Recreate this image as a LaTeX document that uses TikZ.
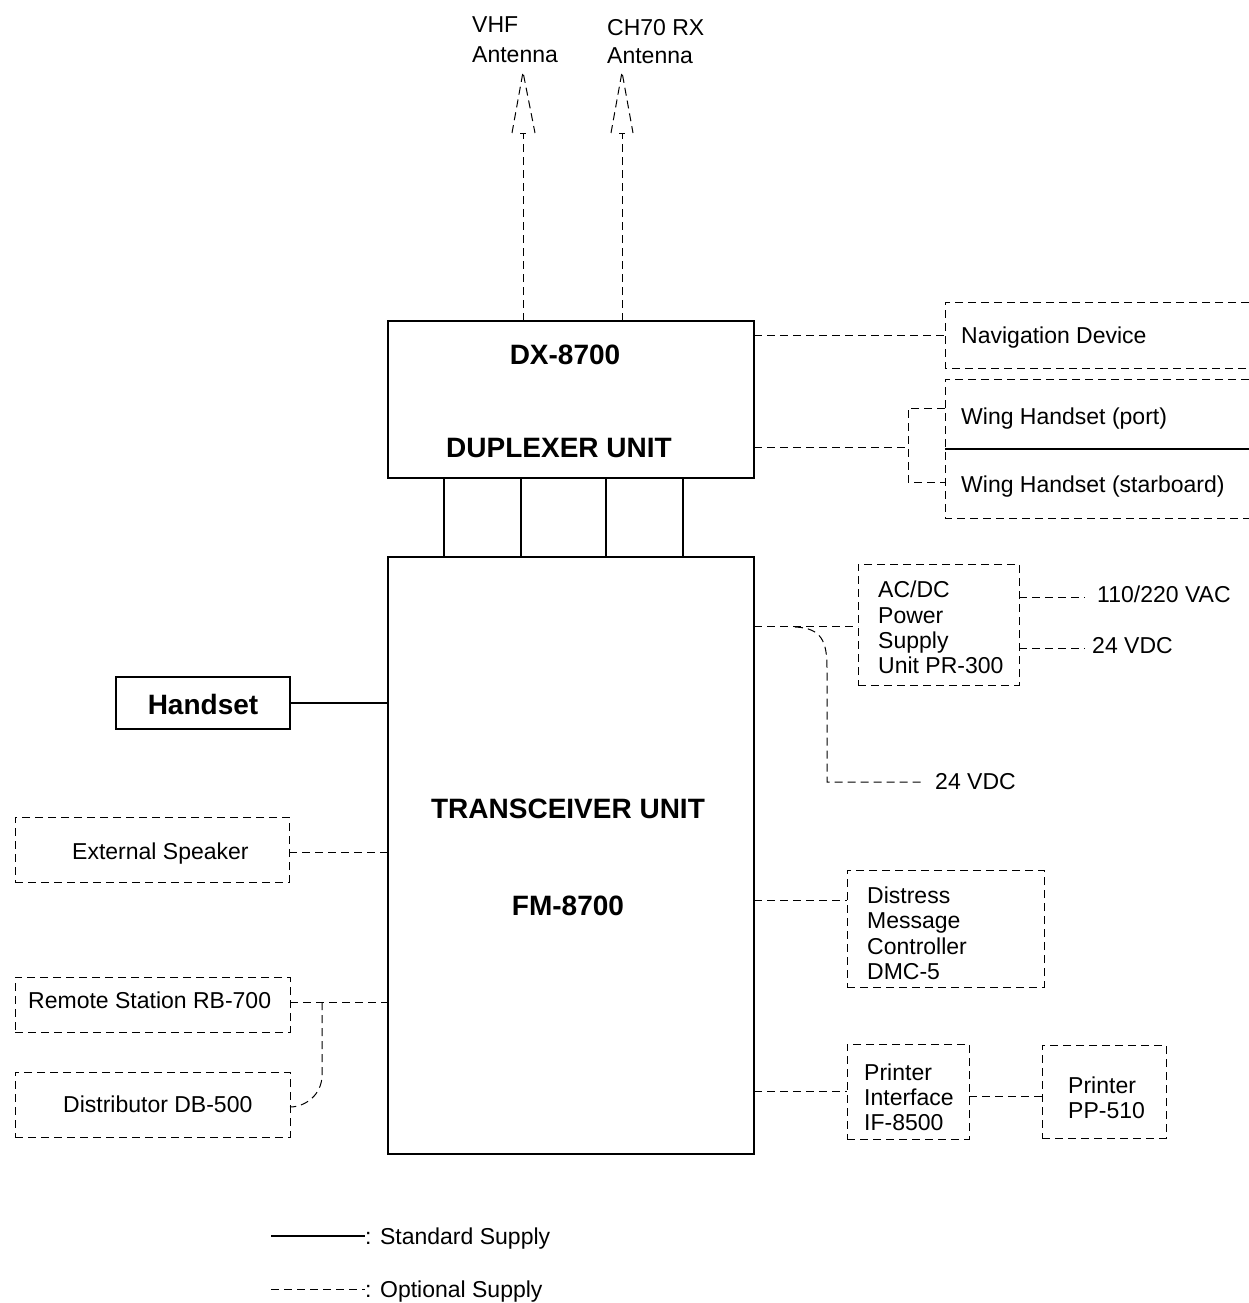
\documentclass[tikz,border=0pt]{standalone}
\usepackage{fontspec}
\setmainfont{Liberation Sans}
\begin{document}
\begin{tikzpicture}[x=1pt,y=-1pt,
  opt/.style={line width=1pt, dash pattern=on 8pt off 5pt},
  std/.style={line width=1.1pt},
  box/.style={draw, rectangle, inner sep=0pt, outer sep=0pt, anchor=north west},
  optbox/.style={box, opt},
  mainbox/.style={box, line width=2pt},
  txt/.style={inner sep=0pt, anchor=base west, font=\fontsize{23}{25}\selectfont},
  btxt/.style={inner sep=0pt, anchor=base, font=\fontsize{28}{30}\selectfont\bfseries}]
\useasboundingbox (0,0) rectangle (1249,1303);

% main units
\node[mainbox, minimum width=366pt, minimum height=157pt] (dx) at (388,321) {};
\node[btxt] (dxa) at (565,364) {DX-8700};
\node[btxt] (dxb) at (559,457) {DUPLEXER UNIT};
\node[mainbox, minimum width=366pt, minimum height=597pt] (trx) at (388,557) {};
\node[btxt] (trxa) at (568,818) {TRANSCEIVER UNIT};
\node[btxt] (trxb) at (568,915) {FM-8700};
\foreach \xx in {444,521,606,683}
  \draw[std] (\xx,0 |- dx.south) -- (\xx,0 |- trx.north);

% antennas
\coordinate (ant1) at (523,72);
\coordinate (ant2) at (622,72);
\draw[opt] (ant1 |- dx.north) -- (523,133);
\draw[std, line width=0.8pt] (520,133) -- (526,133);
\draw[opt] (512,133) -- (ant1) -- (535,133);
\draw[opt] (ant2 |- dx.north) -- (622,133);
\draw[std, line width=0.8pt] (619,133) -- (625,133);
\draw[opt] (611,133) -- (ant2) -- (633,133);
\node[txt] (vhf1) at (472,33) {VHF};
\node[txt] (vhf2) at (472,63) {Antenna};
\node[txt] (ch1) at (607,36) {CH70 RX};
\node[txt] (ch2) at (607,64) {Antenna};

% navigation device
\draw[opt] (1249,302) -| (945,368) -- (1249,368);
\node[txt] (nav) at (961,343) {Navigation Device};
\coordinate (navin) at (945,335);
\draw[opt] (dx.east |- navin) -- (navin);

% wing handsets
\draw[opt] (1249,379) -| (945,518) -- (1249,518);
\draw[std] (945,449) -- (1249,449);
\node[txt] (wingp) at (961,424) {Wing Handset (port)};
\node[txt] (wings) at (961,492) {Wing Handset (starboard)};
\coordinate (wpin) at (945,408);
\coordinate (wsin) at (945,482);
\coordinate (wbr) at (908,447);
\draw[opt] (dx.east |- wbr) -- (wbr);
\draw[opt] (wpin) -| (wbr) |- (wsin);

% AC/DC power supply
\node[optbox, minimum width=161pt, minimum height=121pt] (acdc) at (858,564) {};
\node[txt] (acdc1) at (878,597) {AC/DC};
\node[txt] (acdc2) at (878,623) {Power};
\node[txt] (acdc3) at (878,648) {Supply};
\node[txt] (acdc4) at (878,673) {Unit PR-300};
\draw[opt] (trx.east |- 0,626) -- (acdc.west |- 0,626);
\node[txt] (vac) at (1097,602) {110/220 VAC};
\node[txt] (vdc1) at (1092,653) {24 VDC};
\draw[opt] (acdc.east |- 0,597) -- (1085,597);
\draw[opt] (acdc.east |- 0,648) -- (1085,648);
\node[txt] (vdc2) at (935,789) {24 VDC};
\coordinate (vdc2in) at (922,782);
\draw[opt] (795,627) .. controls (822,628) and (827,642) .. (827,668) -- (827,782) -- (vdc2in);

% handset
\node[box, std, minimum width=174pt, minimum height=52pt] (hs) at (116,677) {};
\node[btxt] (hst) at (203,714) {Handset};
\draw[std] (hs.east) -- (trx.west |- hs.east);

% external speaker
\node[optbox, minimum width=274pt, minimum height=65pt] (spk) at (15,817) {};
\node[txt] (spkt) at (72,859) {External Speaker};
\draw[opt] (spk.east |- 0,852) -- (trx.west |- 0,852);

% remote station / distributor
\node[optbox, minimum width=275pt, minimum height=55pt] (rem) at (15,977) {};
\node[txt] (remt) at (28,1008) {Remote Station RB-700};
\node[optbox, minimum width=275pt, minimum height=65pt] (dist) at (15,1072) {};
\node[txt] (distt) at (63,1112) {Distributor DB-500};
\draw[opt] (rem.east |- 0,1002) -- (trx.west |- 0,1002);
\draw[opt] (322,1002) -- (322,1075) .. controls (322,1095) and (305,1107) .. (dist.east |- 0,1107);

% distress message controller
\node[optbox, minimum width=197pt, minimum height=117pt] (dmc) at (847,870) {};
\node[txt] (dmc1) at (867,903) {Distress};
\node[txt] (dmc2) at (867,928) {Message};
\node[txt] (dmc3) at (867,954) {Controller};
\node[txt] (dmc4) at (867,979) {DMC-5};
\draw[opt] (trx.east |- 0,900) -- (dmc.west |- 0,900);

% printer interface / printer
\node[optbox, minimum width=122pt, minimum height=95pt] (pif) at (847,1044) {};
\node[txt] (pif1) at (864,1080) {Printer};
\node[txt] (pif2) at (864,1105) {Interface};
\node[txt] (pif3) at (864,1130) {IF-8500};
\draw[opt] (trx.east |- 0,1091) -- (pif.west |- 0,1091);
\node[optbox, minimum width=124pt, minimum height=93pt] (prn) at (1042,1045) {};
\node[txt] (prn1) at (1068,1093) {Printer};
\node[txt] (prn2) at (1068,1118) {PP-510};
\draw[opt] (pif.east |- 0,1096) -- (prn.west |- 0,1096);

% legend
\node[txt] (l1t) at (365,1244) {: Standard Supply};
\node[txt] (l2t) at (365,1297) {: Optional Supply};
\coordinate (l1) at (271,1236);
\coordinate (l2) at (271,1289);
\draw[std] (l1) -- (l1t.west |- l1);
\draw[opt] (l2) -- (l2t.west |- l2);
\end{tikzpicture}
\end{document}
